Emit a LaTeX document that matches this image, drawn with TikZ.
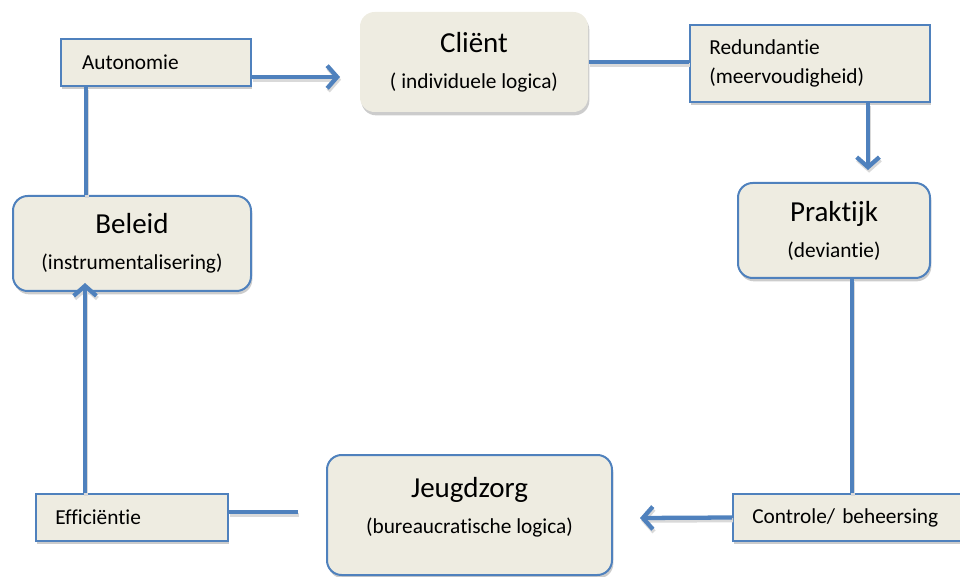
\documentclass[tikz,border=0pt]{standalone}
\usepackage{fontspec}
\setmainfont{Carlito}[Ligatures=NoCommon]
\usetikzlibrary{arrows.meta,shadows}
\definecolor{boxfill}{HTML}{EEECE1}
\definecolor{linkblue}{HTML}{4F81BD}
\tikzset{
	boxshadow/.style={drop shadow={shadow xshift=1pt,shadow yshift=-2.5pt,fill=black!20,opacity=1}},
	termbox/.style={draw=linkblue,line width=1.5pt,fill=boxfill,boxshadow,align=left,inner xsep=14.5pt,inner ysep=0pt,font=\fontsize{16}{21.75}\selectfont},
	keybox/.style={draw=linkblue,line width=1.5pt,fill=boxfill,rounded corners=11pt,boxshadow,align=center,inner sep=0pt,font=\fontsize{16}{27}\selectfont},
	link/.style={draw=linkblue,line width=3.2pt,preaction={draw=black!15,line width=3.2pt,transform canvas={shift={(0.8pt,-2pt)}}}},
	arrowlink/.style={link,-{Straight Barb[length=7.5pt,width=17pt]}},
}
\newcommand{\keytitle}[1]{{\fontsize{21.75}{27}\selectfont #1}}
\begin{document}
\begin{tikzpicture}[x=0.75pt,y=0.75pt,yscale=-1,xscale=1]
	\useasboundingbox (0,0) rectangle (960,577);
	% boxes
	\node[termbox,text width=111pt,inner xsep=15.75pt,minimum height=35.25pt] (autonomie) at (156,62.5) {Autonomie};
	\node[keybox,draw=none,minimum width=171pt,minimum height=75pt] (client) at (474,62) {\keytitle{Cliënt}\\( individuele logica)};
	\node[termbox,text width=151pt,minimum height=57.75pt] (redundantie) at (810,63.5) {Redundantie\\(meervoudigheid)};
	\node[keybox,minimum width=144pt,minimum height=71.25pt] (praktijk) at (834,230.5) {\keytitle{Praktijk}\\(deviantie)};
	\node[termbox,text width=152.5pt,minimum height=35.25pt] (controle) at (854,517.5) {Controle/ beheersing};
	\node[keybox,minimum width=213.75pt,minimum height=90pt,text depth=14pt] (jeugdzorg) at (469.5,515) {\keytitle{Jeugdzorg}\\(bureaucratische logica)};
	\node[termbox,text width=115pt,minimum height=35.25pt] (efficientie) at (132,517.5) {Efficiëntie};
	\node[keybox,minimum width=178.5pt,minimum height=71.25pt] (beleid) at (132,243.5) {\keytitle{Beleid}\\(instrumentalisering)};
	% free ends
	\coordinate (clientTip) at (340,77);
	\coordinate (praktijkTip) at (868,170);
	\coordinate (jeugdzorgTip) at (640,518);
	\coordinate (efficientieEnd) at (298,512);
	\coordinate (beleidTip) at (85,283);
	% connectors
	\draw[arrowlink] (clientTip -| autonomie.east) -- (clientTip);
	\draw[link] ([shift={(26,0)}]autonomie.south west) -- ([shift={(26,0)}]autonomie.south west |- beleid.north);
	\draw[link] (client.east) -- (client.east -| redundantie.west);
	\draw[arrowlink] (praktijkTip |- redundantie.south) -- (praktijkTip);
	\draw[link] ([shift={(18,0)}]praktijk.south) -- ([shift={(18,0)}]praktijk.south |- controle.north);
	\draw[arrowlink] (controle.west) -- (jeugdzorgTip);
	\draw[link] (efficientieEnd -| efficientie.east) -- (efficientieEnd);
	\draw[arrowlink] (beleidTip |- efficientie.north) -- (beleidTip);
\end{tikzpicture}
\end{document}
